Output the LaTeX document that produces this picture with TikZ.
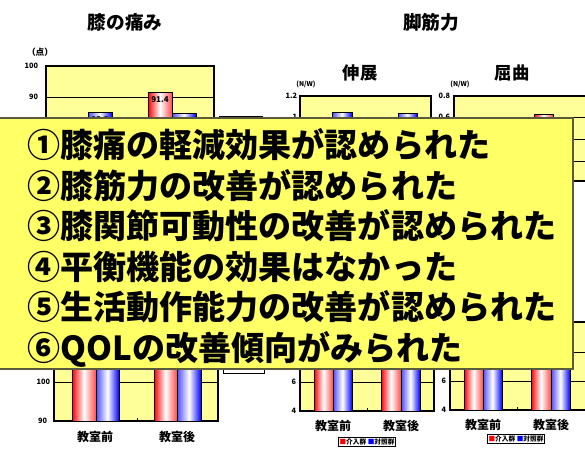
\documentclass[tikz,border=0pt]{standalone}
\usepackage{fontspec}
\newfontfamily\jp{Noto Sans CJK JP}
\definecolor{plotyel}{RGB}{255,255,153}
\definecolor{boxyel}{RGB}{255,255,102}
\definecolor{boxline}{RGB}{90,90,60}
\tikzset{
  plot/.style={draw=black, line width=0.9pt, fill=plotyel},
  grid/.style={draw=black, line width=0.6pt},
  redbar/.style={draw=black, line width=0.6pt, left color=red, right color=red!70, middle color=white},
  bluebar/.style={draw=black, line width=0.6pt, left color=blue!70, right color=blue, middle color=white},
  ttl/.style={inner sep=0pt, font=\jp\bfseries\fontsize{14}{14}\selectfont},
  sub/.style={inner sep=0pt, font=\jp\bfseries\fontsize{13}{13}\selectfont},
  tick/.style={inner sep=0.5pt, anchor=east, font=\jp\bfseries\fontsize{5.5}{5.5}\selectfont},
  cat/.style={inner sep=0pt, font=\jp\bfseries\fontsize{9}{9}\selectfont},
  val/.style={inner sep=0pt, font=\jp\bfseries\fontsize{6}{6}\selectfont},
  legend/.style={draw=black, line width=0.6pt, fill=white},
  summary/.style={anchor=base west, inner sep=0pt, font=\jp\bfseries\fontsize{24.8}{24.8}\selectfont}
}
\begin{document}
\begin{tikzpicture}[x=0.75pt,y=0.75pt,yscale=-1,xscale=1]
\useasboundingbox (0,0) rectangle (585,450);

% Titles
\node [ttl] (tpain) at (125,22) {膝の痛み};
\node [ttl] (tleg) at (431,22) {脚筋力};
\node [sub] (text) at (360,73) {伸展};
\node [sub] (tflex) at (512,73) {屈曲};

%Chart: pain (upper left)
\draw [plot] (46,66) rectangle (214,200);
\draw [grid] (46,97) -- (214,97);
\draw [bluebar] (88,112) rectangle (112,200);
\draw [redbar] (148,92) rectangle (172,200);
\draw [bluebar] (172,113) rectangle (196,200);
\node [val] (v1) at (160,100) {91.4};
\node [val] (v2) at (100,120) {85.3};
\node [val] (v3) at (184,121) {84.9};
\node [tick] (p100) at (39,66) {100};
\node [tick] (p90) at (39,97) {90};
\node [inner sep=0pt, font=\jp\bfseries\fontsize{6.5}{6.5}\selectfont] (unitp) at (40,52) {（点）};
\draw [legend] (219,116) rectangle (262,150);

%Chart: extension (upper middle)
\draw [plot] (300,96) rectangle (431,181);
\draw [grid] (300,117) -- (431,117);
\draw [grid] (300,139) -- (431,139);
\draw [grid] (300,161) -- (431,161);
\draw [bluebar] (332,112) rectangle (352,181);
\draw [bluebar] (398,113) rectangle (417,181);
\node [tick] (e12) at (298,96) {1.2};
\node [tick] (e1) at (298,117) {1};
\node [inner sep=0pt, font=\jp\bfseries\fontsize{5}{5}\selectfont] (unite) at (306,84) {(N/W)};

%Chart: flexion (upper right)
\draw [plot] (454,96) rectangle (586,181);
\draw [grid] (454,117) -- (586,117);
\draw [grid] (454,139) -- (586,139);
\draw [grid] (454,161) -- (586,161);
\draw [redbar] (534,114) rectangle (553,181);
\node [tick] (f08) at (451,96) {0.8};
\node [tick] (f06) at (451,117) {0.6};
\node [inner sep=0pt, font=\jp\bfseries\fontsize{5}{5}\selectfont] (unitf) at (460,84) {(N/W)};

%Chart: range of motion (lower left)
\draw [plot] (54,330) rectangle (218,421);
\draw [grid] (54,382) -- (218,382);
\draw [redbar] (72,340) rectangle (96,421);
\draw [bluebar] (96,340) rectangle (119,421);
\draw [redbar] (154,340) rectangle (177,421);
\draw [bluebar] (177,340) rectangle (201,421);
\draw [grid] (137,421) -- (137,418);
\node [tick] (r100) at (51,382) {100};
\node [tick] (r90) at (48,421) {90};
\node [inner sep=0pt, font=\jp\bfseries\fontsize{6.5}{6.5}\selectfont] (unitr) at (18,366) {度};
\node [cat] (rpre) at (95,437) {教室前};
\node [cat] (rpost) at (177,437) {教室後};
\draw [legend] (223,340) rectangle (264,373);

%Chart: lower middle
\draw [plot] (300,322) rectangle (434,411);
\draw [grid] (300,352) -- (434,352);
\draw [grid] (300,382) -- (434,382);
\draw [redbar] (314,330) rectangle (333,411);
\draw [bluebar] (333,330) rectangle (352,411);
\draw [redbar] (381,330) rectangle (401,411);
\draw [bluebar] (401,330) rectangle (420,411);
\draw [grid] (367,411) -- (367,408);
\node [val] (v4) at (391,368) {11.6};
\node [tick] (m6) at (297,382) {6};
\node [tick] (m4) at (297,411) {4};
\node [cat] (mpre) at (333,426) {教室前};
\node [cat] (mpost) at (401,426) {教室後};
\node [legend, inner sep=1pt, font=\jp\bfseries\fontsize{5}{5}\selectfont] (mleg) at (367,442)
  {\textcolor{red}{■}介入群 \textcolor{blue}{■}対照群};

%Chart: lower right
\draw [plot] (450,322) rectangle (586,410);
\draw [grid] (450,352) -- (586,352);
\draw [grid] (450,381) -- (586,381);
\draw [redbar] (464,330) rectangle (483,410);
\draw [bluebar] (483,330) rectangle (502,410);
\draw [redbar] (531,330) rectangle (551,410);
\draw [bluebar] (551,330) rectangle (570,410);
\draw [grid] (517,410) -- (517,407);
\node [tick] (n6) at (447,381) {6};
\node [tick] (n4) at (447,410) {4};
\node [cat] (npre) at (483,425) {教室前};
\node [cat] (npost) at (551,425) {教室後};
\node [legend, inner sep=1pt, font=\jp\bfseries\fontsize{5}{5}\selectfont] (nleg) at (516,439)
  {\textcolor{red}{■}介入群 \textcolor{blue}{■}対照群};

%Summary box
\draw [draw=boxline, line width=1.2pt, fill=boxyel] (-3,118) rectangle (573,369);

% Text Node
\node [summary] (l1) at (27,157.5) {①膝痛の軽減効果が認められた};
\node [summary] (l2) at (27,198) {②膝筋力の改善が認められた};
\node [summary] (l3) at (27,238.5) {③膝関節可動性の改善が認められた};
\node [summary] (l4) at (27,279) {④平衡機能の効果はなかった};
\node [summary] (l5) at (27,319.5) {⑤生活動作能力の改善が認められた};
\node [summary] (l6) at (27,360) {⑥QOLの改善傾向がみられた};

\end{tikzpicture}
\end{document}
